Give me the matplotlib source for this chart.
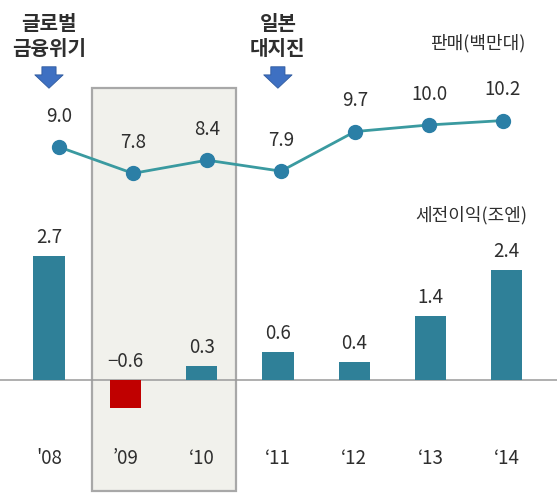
import matplotlib
matplotlib.use("Agg")
from matplotlib import pyplot as plt
from matplotlib.patches import Rectangle
import matplotlib.transforms as mtransforms

plt.rcParams['font.family'] = ['Noto Sans CJK KR', 'DejaVu Sans']

years = ["'08", "’09", "‘10", "‘11", "‘12", "‘13", "‘14"]
sales = [9.0, 7.8, 8.4, 7.9, 9.7, 10.0, 10.2]      # 판매(백만대)
profit = [2.7, -0.6, 0.3, 0.6, 0.4, 1.4, 2.4]      # 세전이익(조엔)
events = {0: "글로벌\n금융위기", 3: "일본\n대지진"}

W, H = 557, 495
fig = plt.figure(figsize=(W / 100, H / 100), dpi=100)

txt = '#2e2e2e'
bar_col = '#2f8098'
neg_col = '#c00000'
line_col = '#3a9aa0'
dot_col = '#2b7fa6'

# bars live in their own full-figure axes
axb = fig.add_axes([0, 0, 1, 1])
axb.set_xlim(-0.642, 6.658)
axb.set_ylim(-2.5, 8.26)
axb.axis('off')

# highlight box for '09-'10
blend = mtransforms.blended_transform_factory(axb.transData, axb.transAxes)
axb.add_patch(Rectangle((0.56, 1 - 491 / H), 1.89, (491 - 88) / H, transform=blend,
                        facecolor='#f1f1ec', edgecolor='#a8a8a8', lw=1.6, zorder=0))

axb.axhline(0, color='#9a9a9a', lw=1.1, zorder=1)

xs = range(len(years))
cols = [neg_col if v < 0 else bar_col for v in profit]
axb.bar(xs, profit, width=0.41, color=cols, zorder=2)
for x, v in zip(xs, profit):
    y = max(v, 0) + 0.4
    axb.text(x, y, f"{v:.1f}".replace('-', '−'), ha='center', va='center',
             fontsize=13.5, color=txt, zorder=3)

for x, lab in zip(xs, years):
    axb.text(x, 1 - 458 / H, lab, transform=blend, ha='center', va='center',
             fontsize=13.5, color=txt)

# event annotations with arrows
for i, label in events.items():
    axb.text(i, 1 - 36 / H, label, transform=blend, ha='center', va='center',
             fontsize=14.5, color=txt, linespacing=1.25, fontweight='bold')
    axb.annotate('', xy=(i, 1 - 91 / H), xytext=(i, 1 - 64 / H),
                 xycoords=('data', 'figure fraction'), textcoords=('data', 'figure fraction'),
                 arrowprops=dict(arrowstyle='simple,head_length=0.8,head_width=1.7,tail_width=0.85',
                                 fc='#3e70c2', ec='#2f5a9e', lw=0.6, mutation_scale=12))

axb.text(527 / W, 1 - 215 / H, "세전이익(조엔)", transform=axb.transAxes, ha='right',
         va='center', fontsize=13, color=txt)

# sales line in an overlaid axes
axl = fig.add_axes([0, 0, 1, 1])
axl.set_xlim(-0.797, 6.73)
axl.set_ylim(-6.82, 15.68)
axl.axis('off')
axl.patch.set_alpha(0)
axl.plot(xs, sales, color=line_col, lw=2, zorder=3)
axl.plot(xs, sales, 'o', color=dot_col, ms=10, zorder=4)
for x, v in zip(xs, sales):
    axl.text(x, v + 1.4, f"{v:.1f}", ha='center', va='center', fontsize=13.5, color=txt)

axl.text(525 / W, 1 - 43 / H, "판매(백만대)", transform=axl.transAxes, ha='right',
         va='center', fontsize=13, color=txt)

fig.savefig('out.png', dpi=100)
